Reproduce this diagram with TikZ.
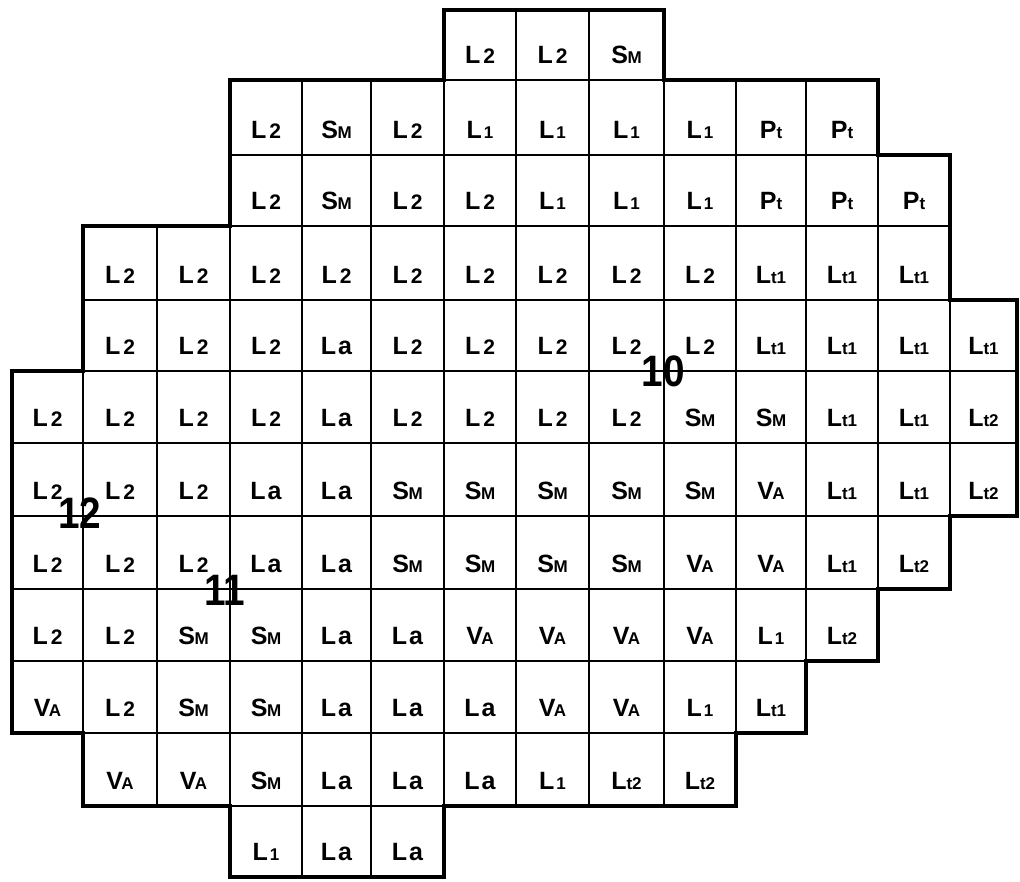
\documentclass[tikz,border=0pt]{standalone}
\usepackage{fontspec}
\setmainfont{Liberation Sans}
\usetikzlibrary{calc}
\newcommand\sma[1]{{\fontsize{17}{17}\selectfont #1}}
\newcommand\cLtwo{L\hspace{3pt}{\fontsize{21}{21}\selectfont 2}}
\newcommand\cLone{L\hspace{2pt}\sma{1}}
\newcommand\cLa{L\hspace{2pt}a}
\newcommand\cLtone{L\sma{t1}}
\newcommand\cLttwo{L\sma{t2}}
\newcommand\cSM{S\kern-0.5pt\sma{M}}
\newcommand\cVA{V\kern-1.5pt\sma{A}}
\newcommand\cPt{P\sma{t}}
\def\XS{{12,83,157,230,302,371,444,516,589,664,736,806,878,950,1017}}
\def\YS{{10,80,155,226,300,371,443,516,589,661,733,806,877}}
\newcommand\cellat[3]{%
  \pgfmathtruncatemacro\cn{#1+1}%
  \pgfmathtruncatemacro\rn{#2+1}%
  \draw[gridline] (g#1-#2) rectangle (g\cn-\rn);
  \node[lab] (c#2-#1) at ($(g#1-\rn)!0.5!(g\cn-\rn)+(0,-17)$) {#3};
}
\newcommand\gridrow[3]{\foreach \lbl [count=\cc from #2] in {#3} {\cellat{\cc}{#1}{\lbl}}}
\begin{document}
\begin{tikzpicture}[x=1pt,y=-1pt,
  gridline/.style={line width=1.8pt},
  outline/.style={line width=3.4pt, line join=miter},
  region/.style={line width=2.7pt, line cap=rect},
  lab/.style={anchor=base, inner sep=0pt, font=\bfseries\fontsize{25}{25}\selectfont},
  num/.style={inner sep=0pt, font=\bfseries\fontsize{44}{44}\selectfont, xscale=0.88}]
\fill[white] (0,0) rectangle (1020,881);
\useasboundingbox (0,0) rectangle (1020,881);
\foreach \i in {0,...,14} {
  \foreach \j in {0,...,12} {
    \pgfmathsetmacro\xx{\XS[\i]}
    \pgfmathsetmacro\yy{\YS[\j]}
    \coordinate (g\i-\j) at (\xx,\yy);
  }
}
\gridrow{0}{6}{\cLtwo,\cLtwo,\cSM}
\gridrow{1}{3}{\cLtwo,\cSM,\cLtwo,\cLone,\cLone,\cLone,\cLone,\cPt,\cPt}
\gridrow{2}{3}{\cLtwo,\cSM,\cLtwo,\cLtwo,\cLone,\cLone,\cLone,\cPt,\cPt,\cPt}
\gridrow{3}{1}{\cLtwo,\cLtwo,\cLtwo,\cLtwo,\cLtwo,\cLtwo,\cLtwo,\cLtwo,\cLtwo,\cLtone,\cLtone,\cLtone}
\gridrow{4}{1}{\cLtwo,\cLtwo,\cLtwo,\cLa,\cLtwo,\cLtwo,\cLtwo,\cLtwo,\cLtwo,\cLtone,\cLtone,\cLtone,\cLtone}
\gridrow{5}{0}{\cLtwo,\cLtwo,\cLtwo,\cLtwo,\cLa,\cLtwo,\cLtwo,\cLtwo,\cLtwo,\cSM,\cSM,\cLtone,\cLtone,\cLttwo}
\gridrow{6}{0}{\cLtwo,\cLtwo,\cLtwo,\cLa,\cLa,\cSM,\cSM,\cSM,\cSM,\cSM,\cVA,\cLtone,\cLtone,\cLttwo}
\gridrow{7}{0}{\cLtwo,\cLtwo,\cLtwo,\cLa,\cLa,\cSM,\cSM,\cSM,\cSM,\cVA,\cVA,\cLtone,\cLttwo}
\gridrow{8}{0}{\cLtwo,\cLtwo,\cSM,\cSM,\cLa,\cLa,\cVA,\cVA,\cVA,\cVA,\cLone,\cLttwo}
\gridrow{9}{0}{\cVA,\cLtwo,\cSM,\cSM,\cLa,\cLa,\cLa,\cVA,\cVA,\cLone,\cLtone}
\gridrow{10}{1}{\cVA,\cVA,\cSM,\cLa,\cLa,\cLa,\cLone,\cLttwo,\cLttwo}
\gridrow{11}{3}{\cLone,\cLa,\cLa}
% thicker internal boundaries
\draw[region] (g4-1) -- (g4-3) -- (g5-3) -- (g5-2);
\draw[region] (g2-8) -- (g2-10);
\draw[region] (g2-8) -- (g3-8) -- (g3-11);
\draw[region] (g1-10) -- (g5-10);
\draw[region] (g13-4) -- (g13-7);
\draw[region] (g6-10) -- (g6-11);
% outer boundary
\draw[outline] (g6-0) -- (g9-0) -- (g9-1) -- (g12-1) -- (g12-2) -- (g13-2) -- (g13-4) -- (g14-4)
  -- (g14-7) -- (g13-7) -- (g13-8) -- (g12-8) -- (g12-9) -- (g11-9) -- (g11-10) -- (g10-10)
  -- (g10-11) -- (g6-11) -- (g6-12) -- (g3-12) -- (g3-11) -- (g1-11) -- (g1-10) -- (g0-10)
  -- (g0-5) -- (g1-5) -- (g1-3) -- (g3-3) -- (g3-1) -- (g6-1) -- cycle;
% zone numbers
\node[num] (n10) at (663,371) {10};
\node[num] (n12) at (80,513) {12};
\node[num] (n11) at (225,590) {11};
\end{tikzpicture}
\end{document}
